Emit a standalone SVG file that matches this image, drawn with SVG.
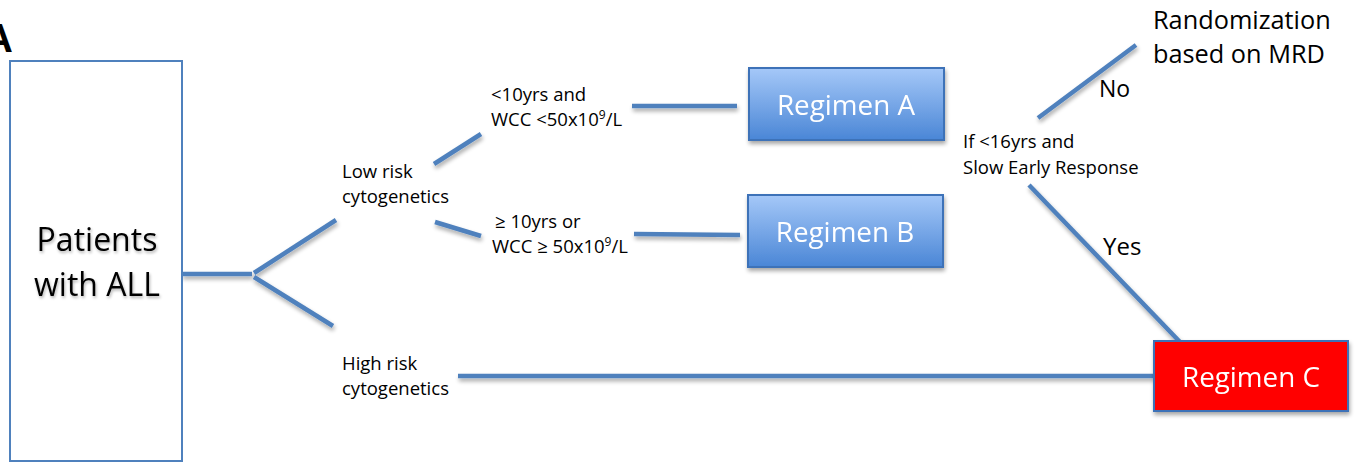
<svg xmlns="http://www.w3.org/2000/svg" width="1355" height="463" viewBox="0 0 1355 463">
<defs>
<linearGradient id="gBlue" x1="0" y1="0" x2="0" y2="1">
<stop offset="0" stop-color="#a5c8f8"/>
<stop offset="1" stop-color="#4a86d6"/>
</linearGradient>
<filter id="sh" x="-10%" y="-20%" width="130%" height="160%">
<feGaussianBlur in="SourceAlpha" stdDeviation="2"/>
<feOffset dx="1" dy="3" result="b"/>
<feComponentTransfer><feFuncA type="linear" slope="0.35"/></feComponentTransfer>
<feMerge><feMergeNode/><feMergeNode in="SourceGraphic"/></feMerge>
</filter>
<filter id="tsh" x="-10%" y="-20%" width="130%" height="160%">
<feGaussianBlur in="SourceAlpha" stdDeviation="1.5"/>
<feOffset dx="1" dy="2"/>
<feComponentTransfer><feFuncA type="linear" slope="0.3"/></feComponentTransfer>
<feMerge><feMergeNode/><feMergeNode in="SourceGraphic"/></feMerge>
</filter>
</defs>
<style>
.ln{stroke:#4f81bd;stroke-width:4.5;fill:none;stroke-linecap:butt}
.t{font-family:"Open Sans","Liberation Sans",sans-serif;fill:#000}
.s{font-size:18.5px}
.m{font-size:25.3px}
.w{font-family:"Open Sans","Liberation Sans",sans-serif;fill:#fff;font-size:27.8px;text-anchor:middle}
.reg{fill:url(#gBlue);stroke:#3d72b8;stroke-width:2}
</style>
<rect width="1355" height="463" fill="#fff"/>
<text x="-16" y="52" font-family="Liberation Sans, Arial, sans-serif" font-weight="bold" font-size="40" fill="#000">A</text>

<g id="connectors" filter="url(#sh)">
<line class="ln" x1="182" y1="274" x2="252" y2="274"/>
<line class="ln" x1="254" y1="273" x2="336" y2="220"/>
<line class="ln" x1="254" y1="277" x2="333" y2="326"/>
<line class="ln" x1="434" y1="164" x2="481" y2="134"/>
<line class="ln" x1="435" y1="222" x2="481" y2="236"/>
<line class="ln" x1="632" y1="106" x2="737" y2="106"/>
<line class="ln" x1="634" y1="234" x2="740" y2="235"/>
<line class="ln" x1="458" y1="376" x2="1154" y2="376"/>
<line class="ln" x1="1038" y1="118" x2="1136" y2="45"/>
<line class="ln" x1="1029" y1="185" x2="1180" y2="342"/>
</g>

<g id="patients">
<rect x="10" y="61" width="172" height="400" fill="#fff" stroke="#4f81bd" stroke-width="2"/>
<g filter="url(#tsh)">
<text class="t" x="97" y="251" font-size="32" text-anchor="middle">Patients</text>
<text class="t" x="97" y="296" font-size="32" text-anchor="middle">with ALL</text>
</g>
</g>

<g id="lowrisk">
<text class="t s" x="342" y="178">Low risk</text>
<text class="t s" x="342" y="203">cytogenetics</text>
</g>
<g id="highrisk">
<text class="t s" x="342" y="370">High risk</text>
<text class="t s" x="342" y="395">cytogenetics</text>
</g>
<g id="cond-a">
<text class="t s" x="491" y="101">&lt;10yrs and</text>
<text class="t s" x="491" y="126">WCC &lt;50x10<tspan font-size="12" dy="-7">9</tspan><tspan dy="7">/L</tspan></text>
</g>
<g id="cond-b">
<text class="t s" x="495" y="228">≥ 10yrs or</text>
<text class="t s" x="492" y="253">WCC ≥ 50x10<tspan font-size="12" dy="-7">9</tspan><tspan dy="7">/L</tspan></text>
</g>

<g id="regimenA" filter="url(#sh)">
<rect class="reg" x="749" y="68" width="195" height="72"/>
<text class="w" x="846" y="115">Regimen A</text>
</g>
<g id="regimenB" filter="url(#sh)">
<rect class="reg" x="748" y="195" width="195" height="72"/>
<text class="w" x="845" y="242">Regimen B</text>
</g>

<g id="cond-sr">
<text class="t s" x="963" y="148">If &lt;16yrs and</text>
<text class="t s" x="963" y="174">Slow Early Response</text>
</g>
<g id="label-no"><text class="t" x="1099" y="97" font-size="23">No</text></g>
<g id="label-yes"><text class="t" x="1103" y="255" font-size="24">Yes</text></g>
<g id="randomization">
<text class="t m" x="1153" y="29">Randomization</text>
<text class="t m" x="1153" y="63">based on MRD</text>
</g>

<g id="regimenC" filter="url(#sh)">
<rect x="1154" y="341" width="194" height="70" fill="#ff0000" stroke="#3d72b8" stroke-width="2"/>
<text class="w" x="1251" y="387">Regimen C</text>
</g>
</svg>
